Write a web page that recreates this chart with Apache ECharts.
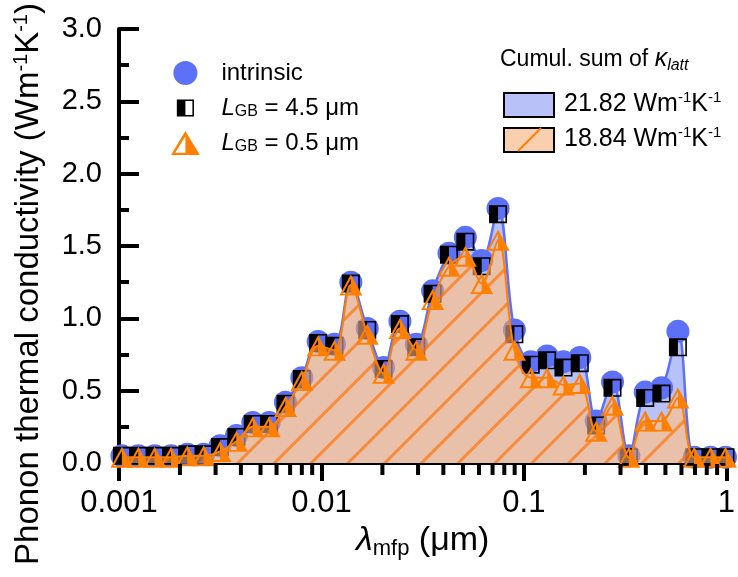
<!DOCTYPE html>
<html><head><meta charset="utf-8">
<script src="https://cdn.jsdelivr.net/npm/echarts@6/dist/echarts.min.js"></script>
<style>html,body{margin:0;padding:0;background:#fff}#c{width:738px;height:577px}</style>
</head><body><div id="c"></div>
<script>
// mean free path bin positions (µm)
const mfp = [0.001034,0.001246,0.001501,0.001807,0.002176,0.002621,0.003157,0.003802,0.004579,0.005514,
  0.006643,0.008000,0.009634,0.01160,0.01397,0.01683,0.02027,0.02441,0.02940,0.03541,
  0.04265,0.05137,0.06186,0.07451,0.08973,0.1081,0.1302,0.1568,0.1888,0.2274,
  0.2739,0.3299,0.3972,0.4785,0.5762,0.6940,0.8358,0.99];
// phonon thermal conductivity (W m^-1 K^-1)
const kIntrinsic = [0.05,0.05,0.05,0.05,0.06,0.06,0.12,0.19,0.28,0.28,
  0.42,0.59,0.84,0.82,1.25,0.93,0.66,0.98,0.82,1.19,
  1.45,1.56,1.40,1.76,0.92,0.70,0.74,0.70,0.73,0.29,
  0.56,0.05,0.49,0.52,0.91,0.04,0.04,0.04];
const kLGB45 = [0.05,0.05,0.05,0.05,0.06,0.06,0.11,0.18,0.27,0.27,
  0.41,0.58,0.83,0.81,1.24,0.92,0.65,0.96,0.80,1.17,
  1.44,1.53,1.36,1.72,0.89,0.68,0.71,0.66,0.69,0.26,
  0.52,0.04,0.45,0.48,0.80,0.04,0.04,0.04];
const kLGB05 = [0.04,0.04,0.04,0.04,0.05,0.05,0.08,0.15,0.25,0.25,
  0.39,0.57,0.81,0.78,1.23,0.89,0.62,0.93,0.78,1.13,
  1.36,1.43,1.24,1.54,0.78,0.59,0.59,0.54,0.55,0.22,
  0.40,0.04,0.29,0.29,0.45,0.04,0.04,0.04];
const xTickLabels = ['0.001','0.01','0.1','1'];
const xMinorTicks = [0.002,0.003,0.004,0.005,0.006,0.007,0.008,0.009,
  0.02,0.03,0.04,0.05,0.06,0.07,0.08,0.09,
  0.2,0.3,0.4,0.5,0.6,0.7,0.8,0.9];
const cumulative = ['21.82', '18.84'];

const BLUE = '#5c70f8', LIGHTBLUE = '#b8c1f8', ORANGE = '#ff8000';
const SQ = 'path://M0,0H10V10H0Z M0.9,0.9V9.1H9.1V0.9Z M0,0H5V10H0Z';
const SQ_LEG = 'path://M-2,-2L-2,-2 M12,12L12,12 M0,0H10V10H0Z M0.9,0.9V9.1H9.1V0.9Z M0,0H5V10H0Z';
const TR = 'path://M5,0L10,10L0,10Z M5,2.0L1.45,9.1L8.55,9.1Z M5,0L10,10L5,10Z';
const TR_LEG = 'path://M6,0L12,10L0,10Z M6,2.2L1.75,9.1L10.25,9.1Z M6,0L12,10L6,10Z';

const pts = arr => mfp.map((x, i) => [x, arr[i]]);
const SMOOTH = 0.35;

const FONT = 'Liberation Sans, Arial, sans-serif';
const chart = echarts.init(document.getElementById('c'), null, {renderer: 'canvas'});
const legendText = {
  intrinsic: '{t|intrinsic}',
  LGB45: '{i|L}{s|GB}{t| = 4.5 μm}',
  LGB05: '{i|L}{s|GB}{t| = 0.5 μm}'
};
chart.setOption({
  animation: false,
  backgroundColor: '#fff',
  textStyle: {fontFamily: FONT},
  grid: {left: 119, top: 29, right: 7, bottom: 114, containLabel: false},
  xAxis: {
    type: 'log', logBase: 10, min: 0.001, max: 1,
    axisLine: {lineStyle: {color: '#000', width: 4}},
    axisTick: {show: true, inside: false, length: 18, lineStyle: {color: '#000', width: 4}},
    splitLine: {show: false},
    axisLabel: {
      color: '#000', fontSize: 31, fontFamily: FONT, margin: 25,
      formatter: v => xTickLabels[Math.round(Math.log10(v)) + 3]
    },
    name: '{l|λ}{s|mfp}{n| (μm)}',
    nameLocation: 'middle', nameGap: 58,
    nameTextStyle: {
      rich: {
        l: {fontSize: 34, fontStyle: 'italic', fontFamily: FONT, color: '#000', lineHeight: 38},
        s: {fontSize: 22, fontFamily: FONT, color: '#000', lineHeight: 22, verticalAlign: 'bottom'},
        n: {fontSize: 34, fontFamily: FONT, color: '#000', lineHeight: 38}
      }
    }
  },
  yAxis: {
    type: 'value', min: 0, max: 3, interval: 0.5,
    axisLine: {show: true, lineStyle: {color: '#000', width: 4}},
    axisTick: {show: true, inside: true, length: 20, lineStyle: {color: '#000', width: 4}},
    minorTick: {show: true, splitNumber: 2, length: 10, lineStyle: {color: '#000', width: 4}},
    splitLine: {show: false},
    axisLabel: {color: '#000', fontSize: 29, fontFamily: FONT, margin: 17, formatter: v => v.toFixed(1)},
    name: '{a|Phonon thermal conductivity (Wm}{s|-1}{a|K}{s|-1}{a|)}',
    nameLocation: 'middle', nameGap: 72,
    nameTextStyle: {
      padding: [0, 76, 0, 0],
      rich: {
        a: {fontSize: 33, fontFamily: FONT, color: '#000', lineHeight: 36},
        s: {fontSize: 20, fontFamily: FONT, color: '#000', lineHeight: 20, verticalAlign: 'top'}
      }
    }
  },
  legend: {
    orient: 'vertical', left: 166, top: 56,
    itemWidth: 62, itemHeight: 24, itemGap: 11,
    symbolKeepAspect: true,
    selectedMode: false,
    data: [
      {name: 'intrinsic', icon: 'circle'},
      {name: 'LGB45', icon: SQ_LEG},
      {name: 'LGB05', icon: TR_LEG}
    ],
    formatter: n => legendText[n],
    textStyle: {
      rich: {
        t: {fontSize: 24, fontFamily: FONT, color: '#000', lineHeight: 24},
        i: {fontSize: 24, fontFamily: FONT, fontStyle: 'italic', color: '#000', lineHeight: 24},
        s: {fontSize: 16, fontFamily: FONT, color: '#000', lineHeight: 16, verticalAlign: 'bottom'}
      }
    }
  },
  graphic: [
    {type: 'text', left: 500, top: 47, z: 10, style: {
      text: '{a|Cumul. sum of }{k|κ}{l|latt}', rich: {
        a: {fontSize: 23, fontFamily: FONT, fill: '#000', lineHeight: 28},
        k: {fontSize: 25, fontFamily: FONT, fontStyle: 'italic', fill: '#000', lineHeight: 28},
        l: {fontSize: 16, fontFamily: FONT, fontStyle: 'italic', fill: '#000', lineHeight: 16, verticalAlign: 'bottom'}
      }}},
    {type: 'rect', left: 503, top: 92, z: 10, shape: {width: 50, height: 24},
      style: {fill: LIGHTBLUE, stroke: '#000', lineWidth: 2}},
    {type: 'rect', left: 503, top: 127, z: 10, shape: {width: 50, height: 24},
      style: {fill: '#f9cfb0', stroke: '#000', lineWidth: 2}},
    {type: 'line', z: 11, shape: {x1: 518, y1: 151, x2: 541, y2: 128},
      style: {stroke: ORANGE, lineWidth: 2}},
    {type: 'text', left: 564, top: 90, z: 10, style: {
      text: '{a|' + cumulative[0] + ' Wm}{s|-1}{a|K}{s|-1}', rich: {
        a: {fontSize: 25, fontFamily: FONT, fill: '#000', lineHeight: 28},
        s: {fontSize: 15, fontFamily: FONT, fill: '#000', lineHeight: 15, verticalAlign: 'top'}
      }}},
    {type: 'text', left: 564, top: 125, z: 10, style: {
      text: '{a|' + cumulative[1] + ' Wm}{s|-1}{a|K}{s|-1}', rich: {
        a: {fontSize: 25, fontFamily: FONT, fill: '#000', lineHeight: 28},
        s: {fontSize: 15, fontFamily: FONT, fill: '#000', lineHeight: 15, verticalAlign: 'top'}
      }}}
  ],
  series: [
    {
      name: 'areaInt', type: 'line', smooth: SMOOTH, symbol: 'none', z: 1,
      data: pts(kIntrinsic),
      lineStyle: {color: BLUE, width: 2.5},
      itemStyle: {color: BLUE},
      areaStyle: {color: LIGHTBLUE, opacity: 1}
    },
    {
      name: 'mask05', type: 'line', smooth: SMOOTH, symbol: 'none', z: 2,
      data: pts(kLGB05),
      lineStyle: {width: 0, opacity: 0},
      itemStyle: {color: '#fff'},
      areaStyle: {color: '#fff', opacity: 1}
    },
    {
      name: 'intrinsic', type: 'scatter', symbol: 'circle', symbolSize: 23, z: 3,
      data: pts(kIntrinsic), itemStyle: {color: BLUE, opacity: 1}
    },
    {
      name: 'LGB45', type: 'scatter', symbol: SQ, symbolSize: 18, z: 3,
      data: pts(kLGB45), itemStyle: {color: '#000', opacity: 1}
    },
    {
      name: 'area05', type: 'line', smooth: SMOOTH, symbol: 'none', z: 4,
      data: pts(kLGB05),
      lineStyle: {color: ORANGE, width: 2},
      itemStyle: {color: ORANGE, decal: {
        symbol: 'rect', symbolSize: 1, color: 'rgb(255,110,0)',
        dashArrayX: [1, 0], dashArrayY: [2.5, 23], rotation: -Math.PI / 4
      }},
      areaStyle: {color: 'rgb(221,160,125)', opacity: 0.65}
    },
    {
      name: 'LGB05', type: 'scatter', symbol: TR, symbolSize: [23, 21], z: 5,
      data: pts(kLGB05), itemStyle: {color: ORANGE, opacity: 1}
    },
    {
      name: 'minorTicks', type: 'custom', z: 6, silent: true, clip: false,
      data: xMinorTicks.map(v => [v, 0]), encode: {x: 0, y: 1},
      renderItem: (params, api) => {
        const p = api.coord([api.value(0), 0]);
        return {type: 'line', shape: {x1: p[0], y1: p[1] + 1, x2: p[0], y2: p[1] + 12},
          style: {stroke: '#000', lineWidth: 4}};
      }
    }
  ]
});
</script>
</body></html>
